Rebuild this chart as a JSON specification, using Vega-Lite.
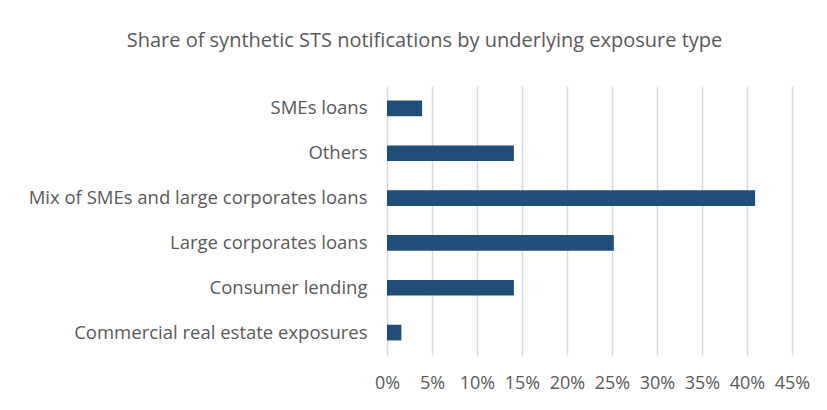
{
  "$schema": "https://vega.github.io/schema/vega-lite/v6.json",
  "width": 405,
  "height": 269,
  "autosize": {"type": "none"},
  "padding": {"left": 387, "top": 86, "right": 35, "bottom": 55},
  "background": "white",
  "title": {
    "text": "Share of synthetic STS notifications by underlying exposure type",
    "anchor": "middle",
    "dx": -165,
    "offset": 35,
    "font": "Open Sans",
    "fontSize": 20,
    "fontWeight": "normal",
    "color": "#595959"
  },
  "data": {
    "values": [
      {"type": "SMEs loans", "share": 0.039},
      {"type": "Others", "share": 0.141},
      {"type": "Mix of SMEs and large corporates loans", "share": 0.409},
      {"type": "Large corporates loans", "share": 0.252},
      {"type": "Consumer lending", "share": 0.141},
      {"type": "Commercial real estate exposures", "share": 0.016}
    ]
  },
  "mark": {"type": "bar", "color": "#1F4E79"},
  "encoding": {
    "y": {
      "field": "type",
      "type": "nominal",
      "sort": ["SMEs loans", "Others", "Mix of SMEs and large corporates loans", "Large corporates loans", "Consumer lending", "Commercial real estate exposures"],
      "scale": {"paddingInner": 0.65, "paddingOuter": 0.325},
      "axis": {
        "title": null,
        "domain": false,
        "ticks": false,
        "labelPadding": 20,
        "labelFont": "Open Sans",
        "labelFontSize": 18.5,
        "labelColor": "#595959",
        "labelLimit": 400
      }
    },
    "x": {
      "field": "share",
      "type": "quantitative",
      "scale": {"domain": [0, 0.45], "nice": false},
      "axis": {
        "title": null,
        "values": [0, 0.05, 0.1, 0.15, 0.2, 0.25, 0.3, 0.35, 0.4, 0.45],
        "format": ".0%",
        "domain": false,
        "ticks": false,
        "grid": true,
        "gridColor": "#D9D9D9",
        "gridWidth": 1.5,
        "labelPadding": 19,
        "labelOverlap": false,
        "labelFlush": false,
        "labelFont": "Open Sans",
        "labelFontSize": 18,
        "labelColor": "#595959"
      }
    }
  },
  "config": {"view": {"stroke": null}}
}
